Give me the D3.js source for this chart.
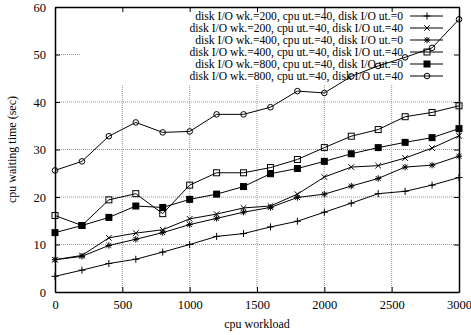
<!DOCTYPE html>
<html>
<head>
<meta charset="utf-8">
<script src="https://cdn.jsdelivr.net/npm/d3@7"></script>
<style>
  body { margin: 0; background: #fff; }
  svg text { font-family: "Liberation Serif", "Times New Roman", serif; }
</style>
</head>
<body>
<div id="chart"></div>
<script>
var width = 471;
var height = 335;
var margin = { top: 7, right: 12, bottom: 43, left: 55 };

// cpu workload values (x)
var workload = [0, 200, 400, 600, 800, 1000, 1200, 1400, 1600, 1800, 2000, 2200, 2400, 2600, 2800, 3000];

var seriesNames = [
  'disk I/O wk.=200, cpu ut.=40, disk I/O ut.=0',
  'disk I/O wk.=200, cpu ut.=40, disk I/O ut.=40',
  'disk I/O wk.=400, cpu ut.=40, disk I/O ut.=0',
  'disk I/O wk.=400, cpu ut.=40, disk I/O ut.=40',
  'disk I/O wk.=800, cpu ut.=40, disk I/O ut.=0',
  'disk I/O wk.=800, cpu ut.=40, disk I/O ut.=40'
];
var seriesMarkers = ['plus', 'cross', 'star', 'square', 'filled', 'circle'];

var wk200ut0 = [3.3, 4.6, 6.0, 6.9, 8.4, 10.0, 11.7, 12.3, 13.7, 14.9, 16.8, 18.7, 20.7, 21.2, 22.5, 24.1];
var wk200ut40 = [6.8, 7.7, 11.4, 12.4, 13.1, 15.4, 16.4, 17.7, 18.1, 20.6, 24.2, 26.3, 26.6, 28.2, 30.3, 32.9];
var wk400ut0 = [6.8, 7.5, 9.8, 11.1, 12.5, 14.2, 15.5, 16.8, 17.8, 19.9, 20.6, 22.3, 23.9, 26.3, 26.7, 28.6];
var wk400ut40 = [16.1, 14.0, 19.4, 20.7, 16.5, 22.5, 25.1, 25.1, 26.2, 27.9, 30.4, 32.8, 34.2, 36.9, 37.8, 39.2];
var wk800ut0 = [12.5, 14.0, 15.7, 18.1, 17.8, 19.5, 20.6, 22.2, 24.9, 26.0, 27.5, 29.1, 30.4, 31.5, 32.5, 34.4];
var wk800ut40 = [25.6, 27.5, 32.8, 35.7, 33.6, 33.8, 37.4, 37.4, 38.9, 42.3, 41.9, 45.4, 47.6, 49.4, 51.4, 57.4];

var allSeries = [wk200ut0, wk200ut40, wk400ut0, wk400ut40, wk800ut0, wk800ut40];

var xTicks = [0, 500, 1000, 1500, 2000, 2500, 3000];
var yTicks = [0, 10, 20, 30, 40, 50, 60];

var svg = d3.select('#chart')
  .append('svg')
  .attr('width', width)
  .attr('height', height);

var plotW = width - margin.left - margin.right;
var plotH = height - margin.top - margin.bottom;

var x = d3.scaleLinear().domain([0, 3000]).range([margin.left, margin.left + plotW]);
var y = d3.scaleLinear().domain([0, 60]).range([margin.top + plotH, margin.top]);

// grid
var grid = svg.append('g');
grid.selectAll('.gx')
  .data(xTicks.slice(1, -1))
  .enter().append('line')
  .attr('x1', function(d) { return x(d); })
  .attr('x2', function(d) { return x(d); })
  .attr('y1', y(0))
  .attr('y2', y(60));
grid.selectAll('.gy')
  .data(yTicks.slice(1, -1))
  .enter().append('line')
  .attr('x1', x(0))
  .attr('x2', x(3000))
  .attr('y1', function(d) { return y(d); })
  .attr('y2', function(d) { return y(d); });
grid.selectAll('line')
  .attr('stroke', '#999')
  .attr('stroke-width', 1)
  .attr('stroke-dasharray', '1,1');

// opaque key box hides the grid
svg.append('rect')
  .attr('x', 81)
  .attr('y', y(60))
  .attr('width', x(3000) - 81)
  .attr('height', 84 - y(60))
  .attr('fill', '#fff');

function marker(g, type) {
  if (type === 'plus') {
    g.append('path').attr('d', 'M-3.5,0H3.5M0,-3.5V3.5').attr('stroke', '#000').attr('fill', 'none');
  } else if (type === 'cross') {
    g.append('path').attr('d', 'M-2.8,-2.8L2.8,2.8M-2.8,2.8L2.8,-2.8').attr('stroke', '#000').attr('fill', 'none');
  } else if (type === 'star') {
    g.append('path').attr('d', 'M-3.2,0H3.2M0,-3.2V3.2M-2.4,-2.4L2.4,2.4M-2.4,2.4L2.4,-2.4').attr('stroke', '#000').attr('fill', 'none');
  } else if (type === 'square') {
    g.append('rect').attr('x', -3).attr('y', -3).attr('width', 6).attr('height', 6)
      .attr('stroke', '#000').attr('fill', 'none');
  } else if (type === 'filled') {
    g.append('rect').attr('x', -3.5).attr('y', -3.5).attr('width', 7).attr('height', 7).attr('fill', '#000');
  } else {
    g.append('circle').attr('r', 2.8).attr('stroke', '#000').attr('fill', 'none');
  }
}

var line = d3.line()
  .x(function(d, i) { return x(workload[i]); })
  .y(function(d) { return y(d); });

allSeries.forEach(function(values, s) {
  svg.append('path')
    .datum(values)
    .attr('d', line)
    .attr('fill', 'none')
    .attr('stroke', '#000')
    .attr('stroke-width', 1);
  values.forEach(function(v, i) {
    var g = svg.append('g').attr('transform', 'translate(' + x(workload[i]) + ',' + y(v) + ')');
    marker(g, seriesMarkers[s]);
  });
});

// legend
var legend = svg.append('g');
seriesNames.forEach(function(name, i) {
  var ly = 16 + i * 12;
  legend.append('text')
    .attr('x', 403)
    .attr('y', ly)
    .attr('dy', '0.35em')
    .attr('text-anchor', 'end')
    .attr('font-size', 11.6)
    .text(name);
  legend.append('line')
    .attr('x1', 410).attr('x2', 443)
    .attr('y1', ly).attr('y2', ly)
    .attr('stroke', '#000');
  var g = legend.append('g').attr('transform', 'translate(427,' + ly + ')');
  marker(g, seriesMarkers[i]);
});

// axes: labels on bottom/left, inward ticks on all sides
var axB = svg.append('g')
  .attr('transform', 'translate(0,' + y(0) + ')')
  .call(d3.axisBottom(x).tickValues(xTicks).tickFormat(d3.format('d'))
    .tickSizeInner(-5).tickSizeOuter(0).tickPadding(8));
var axL = svg.append('g')
  .attr('transform', 'translate(' + x(0) + ',0)')
  .call(d3.axisLeft(y).tickValues(yTicks).tickFormat(d3.format('d'))
    .tickSizeInner(-5).tickSizeOuter(0).tickPadding(9));
var axT = svg.append('g')
  .attr('transform', 'translate(0,' + y(60) + ')')
  .call(d3.axisTop(x).tickValues(xTicks).tickSizeInner(-5).tickSizeOuter(0).tickFormat(''));
var axR = svg.append('g')
  .attr('transform', 'translate(' + x(3000) + ',0)')
  .call(d3.axisRight(y).tickValues(yTicks).tickSizeInner(-5).tickSizeOuter(0).tickFormat(''));

[axB, axL, axT, axR].forEach(function(a) {
  a.select('.domain').attr('stroke', '#000').attr('stroke-width', 1.5);
  a.selectAll('.tick line').attr('stroke', '#000');
  a.selectAll('text')
    .attr('font-size', 12.5)
    .attr('fill', '#000');
});

svg.append('text')
  .attr('x', (x(0) + x(3000)) / 2)
  .attr('y', 328)
  .attr('text-anchor', 'middle')
  .attr('font-size', 12)
  .text('cpu workload');

svg.append('text')
  .attr('transform', 'translate(16,' + ((y(0) + y(60)) / 2) + ') rotate(-90)')
  .attr('text-anchor', 'middle')
  .attr('font-size', 12)
  .text('cpu waiting time (sec)');
</script>
</body>
</html>
